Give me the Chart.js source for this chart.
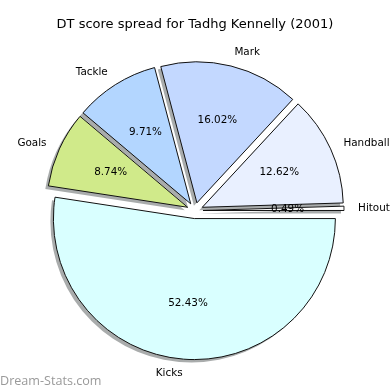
<!DOCTYPE html>
<html>
<head>
<meta charset="utf-8">
<script src="https://cdn.jsdelivr.net/npm/chart.js@4.4.1/dist/chart.umd.min.js"></script>
<style>
  html, body { margin: 0; padding: 0; background: #fff; }
  canvas { display: block; }
</style>
</head>
<body>
<canvas id="graficoPizza" width="390" height="390"></canvas>
<script>
// dados na ordem do Chart.js (sentido horário a partir da direita)
const categorias = ['Kicks', 'Goals', 'Tackle', 'Mark', 'Handball', 'Hitout'];
const percentuais = [52.43, 8.74, 9.71, 16.02, 12.62, 0.49];
const cores = ['#d9ffff', '#d0ea8a', '#b3d6ff', '#c3d8ff', '#e9f0ff', '#ffffff'];

const explodir = 8;          // deslocamento de cada fatia (px)
const sombraDx = -3, sombraDy = 3;

// desenha as fatias "explodidas" com sombra, e os rótulos
const pizzaExplodida = {
  id: 'pizzaExplodida',
  beforeDatasetsDraw(chart) {
    const ctx = chart.ctx;
    const arcos = chart.getDatasetMeta(0).data;

    arcos.forEach((arco, i) => {
      const p = arco.getProps(['x', 'y', 'startAngle', 'endAngle', 'outerRadius']);
      const meio = (p.startAngle + p.endAngle) / 2;
      ctx.save();
      ctx.translate(Math.cos(meio) * explodir + sombraDx, Math.sin(meio) * explodir + sombraDy);
      ctx.beginPath();
      ctx.moveTo(p.x, p.y);
      ctx.arc(p.x, p.y, p.outerRadius, p.startAngle, p.endAngle);
      ctx.closePath();
      ctx.fillStyle = 'rgba(65,72,70,0.45)';
      ctx.fill();
      ctx.restore();
    });

    arcos.forEach(arco => {
      const p = arco.getProps(['startAngle', 'endAngle']);
      const meio = (p.startAngle + p.endAngle) / 2;
      ctx.save();
      ctx.translate(Math.cos(meio) * explodir, Math.sin(meio) * explodir);
      arco.draw(ctx);
      ctx.restore();
    });

    ctx.save();
    ctx.fillStyle = '#000';
    ctx.font = '10.4px "DejaVu Sans"';
    ctx.textBaseline = 'middle';
    arcos.forEach((arco, i) => {
      const p = arco.getProps(['x', 'y', 'startAngle', 'endAngle', 'outerRadius']);
      const meio = (p.startAngle + p.endAngle) / 2;
      const cx = p.x + Math.cos(meio) * explodir;
      const cy = p.y + Math.sin(meio) * explodir;
      const r = p.outerRadius;
      // nome da categoria fora da pizza
      const lx = cx + Math.cos(meio) * r * 1.1;
      const ly = cy + Math.sin(meio) * r * 1.1;
      ctx.textAlign = Math.cos(meio) > 0 ? 'left' : 'right';
      ctx.fillText(categorias[i], lx, ly);
      // percentual dentro
      ctx.textAlign = 'center';
      ctx.fillText(percentuais[i].toFixed(2) + '%', cx + Math.cos(meio) * r * 0.6, cy + Math.sin(meio) * r * 0.6);
    });
    ctx.restore();
    return false;
  },
  afterDraw(chart) {
    const ctx = chart.ctx;
    ctx.save();
    ctx.fillStyle = '#9a9a9a';
    ctx.font = '12.6px "Open Sans"';
    ctx.textAlign = 'left';
    ctx.textBaseline = 'alphabetic';
    ctx.fillText('Dream-Stats.com', 0, 385);
    ctx.restore();
  }
};

const ctx = document.getElementById('graficoPizza').getContext('2d');
const grafico = new Chart(ctx, {
  type: 'pie',
  data: {
    labels: categorias,
    datasets: [{
      data: percentuais,
      backgroundColor: cores,
      borderColor: '#111',
      borderWidth: 1,
      clip: false
    }]
  },
  options: {
    responsive: false,
    animation: false,
    rotation: 90,
    radius: 141,
    layout: { padding: { top: 0, bottom: 11.4, left: 0, right: 0 } },
    plugins: {
      legend: { display: false },
      tooltip: { enabled: false },
      title: {
        display: true,
        text: 'DT score spread for Tadhg Kennelly (2001)',
        color: '#000',
        font: { family: 'DejaVu Sans', size: 13, weight: 'normal' },
        padding: { top: 17, bottom: 10 }
      }
    }
  },
  plugins: [pizzaExplodida]
});
</script>
</body>
</html>
